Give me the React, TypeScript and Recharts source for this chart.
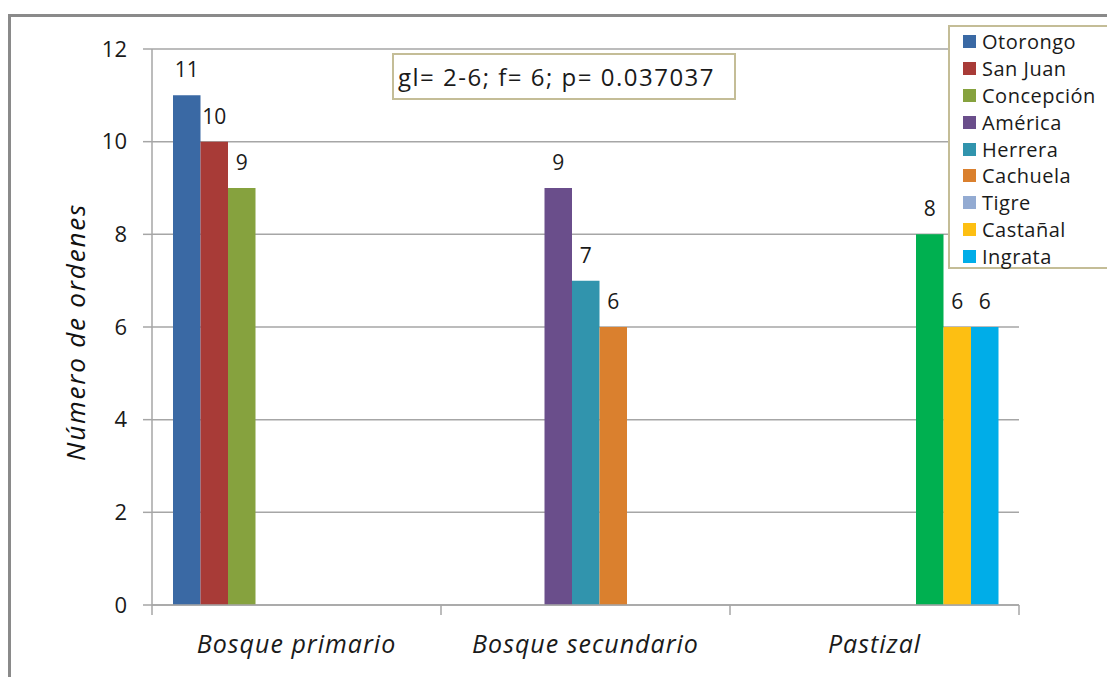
import { BarChart, Bar, XAxis, YAxis, CartesianGrid, LabelList, Cell } from 'recharts';

const habitats = ['Bosque primario', 'Bosque secundario', 'Pastizal'];
const localidades = [
  'Otorongo', 'San Juan', 'Concepción', 'América', 'Herrera',
  'Cachuela', 'Tigre', 'Castañal', 'Ingrata',
];

// número de órdenes por localidad (una columna por hábitat)
const otorongo = [11, null, null];
const sanJuan = [10, null, null];
const concepcion = [9, null, null];
const america = [null, 9, null];
const herrera = [null, 7, null];
const cachuela = [null, 6, null];
const tigre = [null, null, 8];
const castanal = [null, null, 6];
const ingrata = [null, null, 6];

const yTicks = [0, 2, 4, 6, 8, 10, 12];
const statsText = 'gl= 2-6; f= 6; p= 0.037037';

const valores = [otorongo, sanJuan, concepcion, america, herrera, cachuela, tigre, castanal, ingrata];

const colores = [
  '#3A69A4', '#A83B37', '#86A23E', '#6A4E8B', '#3194AD',
  '#DA802E', '#93ABD2', '#FDBF12', '#00ADE8',
];
// la barra de Tigre se pintó en verde, aunque la leyenda conserva su color
const barColores = colores.map((c, i) => (localidades[i] === 'Tigre' ? '#00B050' : c));

const data = habitats.map((habitat, i) => {
  const row: Record<string, string | number | null> = { habitat };
  localidades.forEach((loc, j) => {
    row[loc] = valores[j][i];
  });
  return row;
});

const FONT = '"Open Sans", sans-serif';
const GRID = '#a6a6a6';
const BORDER = '#C4BD97';

// etiqueta de categoría centrada y marcas en los bordes de cada banda
function HabitatTick(props: any) {
  const { x, y, payload, index } = props;
  const half = typeof payload?.offset === 'number' ? payload.offset : 0;
  return (
    <g>
      {half > 0 && index === 0 && (
        <line x1={x - half} x2={x - half} y1={y} y2={y + 10} stroke={GRID} strokeWidth={1.5} />
      )}
      {half > 0 && (
        <line x1={x + half} x2={x + half} y1={y} y2={y + 10} stroke={GRID} strokeWidth={1.5} />
      )}
      <text
        x={x}
        y={y + 48}
        textAnchor="middle"
        fontFamily={FONT}
        fontStyle="italic"
        fontSize={25}
        letterSpacing={1}
        fill="#1a1a1a"
      >
        {payload.value}
      </text>
    </g>
  );
}

export default function App() {
  return (
    <div
      style={{
        position: 'absolute',
        left: 0,
        top: 0,
        width: 1107,
        height: 677,
        overflow: 'hidden',
        background: '#fff',
      }}
    >
      <div
        style={{
          position: 'absolute',
          left: 8,
          top: 14,
          width: 1300,
          height: 900,
          borderTop: '3px solid #8a8a8a',
          borderLeft: '3px solid #8a8a8a',
        }}
      />
      <div style={{ position: 'absolute', left: 0, top: 0 }}>
        <BarChart
          width={1107}
          height={677}
          data={data}
          margin={{ top: 49, right: 88, left: 0, bottom: 0 }}
          barSize={27.5}
          barGap={0}
        >
          <CartesianGrid vertical={false} stroke={GRID} strokeWidth={1.5} />
          <XAxis
            dataKey="habitat"
            interval={0}
            height={72}
            tickSize={0}
            tickMargin={0}
            tickLine={false}
            axisLine={{ stroke: GRID, strokeWidth: 1.5 }}
            tick={<HabitatTick />}
          />
          <YAxis
            width={152}
            domain={[0, 12]}
            ticks={yTicks}
            interval={0}
            tickSize={9}
            tickMargin={16}
            tickLine={{ stroke: GRID, strokeWidth: 1.5 }}
            axisLine={{ stroke: GRID, strokeWidth: 1.5 }}
            tick={{ fontSize: 22, fill: '#1a1a1a', fontFamily: FONT }}
            label={{
              value: 'Número de ordenes',
              angle: -90,
              position: 'center',
              dx: 0,
              dy: 5,
              style: {
                fontFamily: FONT,
                fontStyle: 'italic',
                fontSize: 26,
                letterSpacing: 1.8,
                fill: '#111',
              },
            }}
          />
          {localidades.map((loc, j) => (
            <Bar key={loc} dataKey={loc} fill={barColores[j]} isAnimationActive={false}>
              {data.map((_, i) => (
                <Cell key={i} fill={barColores[j]} />
              ))}
              <LabelList
                dataKey={loc}
                position="top"
                offset={18}
                formatter={(v: any) => (v == null ? '' : v)}
                style={{ fontSize: 21, fill: '#1a1a1a', fontFamily: FONT }}
              />
            </Bar>
          ))}
        </BarChart>
      </div>

      <div
        style={{
          position: 'absolute',
          left: 392,
          top: 53,
          width: 336,
          height: 43,
          border: `2px solid ${BORDER}`,
          background: '#fff',
          fontFamily: FONT,
          fontSize: 24,
          letterSpacing: 1.5,
          color: '#1a1a1a',
          display: 'flex',
          alignItems: 'center',
          paddingLeft: 4,
          whiteSpace: 'nowrap',
        }}
      >
        {statsText}
      </div>

      <div
        style={{
          position: 'absolute',
          left: 948,
          top: 25,
          width: 180,
          height: 244,
          border: `2px solid ${BORDER}`,
          background: '#fff',
          paddingTop: 1,
          boxSizing: 'border-box',
        }}
      >
        {localidades.map((loc, j) => (
          <div
            key={loc}
            style={{
              display: 'flex',
              alignItems: 'center',
              height: 26.9,
              fontFamily: FONT,
              fontSize: 20,
              letterSpacing: 0.5,
              color: '#1a1a1a',
              whiteSpace: 'nowrap',
            }}
          >
            <span
              style={{
                display: 'inline-block',
                width: 13,
                height: 13,
                marginLeft: 13,
                marginRight: 6,
                background: colores[j],
              }}
            />
            {loc}
          </div>
        ))}
      </div>
    </div>
  );
}
